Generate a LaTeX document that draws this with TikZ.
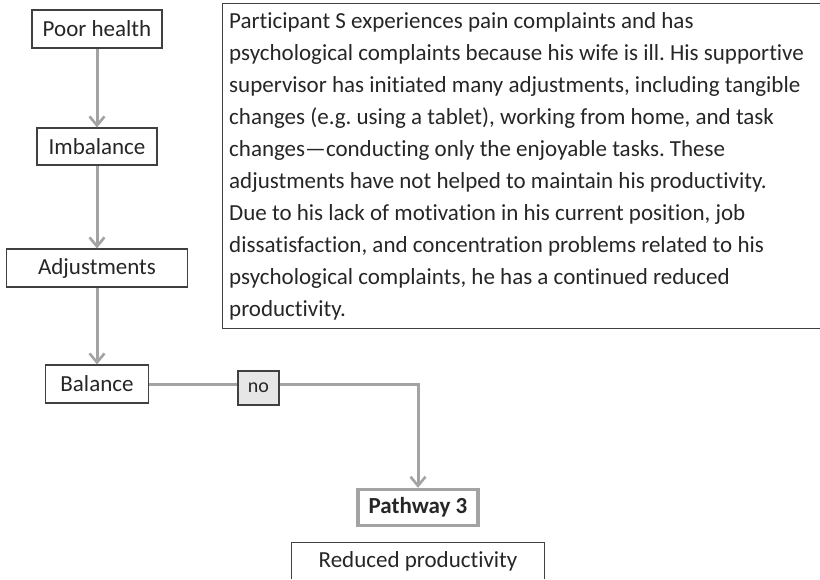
\documentclass[tikz,border=0pt]{standalone}
\usepackage{fontspec}
\setmainfont{Carlito}[Ligatures={NoCommon}]
\frenchspacing
\usetikzlibrary{arrows.meta}
\definecolor{flowgray}{HTML}{A3A3A3}
\definecolor{boxline}{HTML}{404040}
\definecolor{ink}{HTML}{262626}
\definecolor{tagfill}{HTML}{E6E6E6}
\tikzset{
  stage/.style={draw=boxline, line width=1.2pt, fill=white, text=ink,
    font=\fontsize{23}{26}\selectfont, inner sep=0pt, align=center},
  flow/.style={draw=flowgray, line width=3pt,
    -{Straight Barb[length=9pt,width=15pt,line width=2.6pt]}},
  storyline/.style={text=ink, font=\fontsize{23}{26}\selectfont, inner sep=0pt, anchor=base west},
}
\begin{document}
\begin{tikzpicture}[x=1pt,y=-1pt]
\useasboundingbox (0,0) rectangle (820,579);

% left column of stages
\node[stage, minimum width=130pt, minimum height=38pt] (poor) at (97,29) {Poor health};
\node[stage, minimum width=120pt, minimum height=37pt] (imb) at (97,146.5) {Imbalance};
\node[stage, minimum width=181pt, minimum height=38pt] (adj) at (97,268) {Adjustments};
\node[stage, minimum width=103pt, minimum height=38pt] (bal) at (97,384) {Balance};

% pathway outcome
\node[stage, draw=flowgray, line width=3.5pt, minimum width=120pt, minimum height=36pt,
      font=\fontsize{23}{26}\selectfont\bfseries] (pw) at (418,507.5) {Pathway 3};

% bottom box, running off the lower edge
\node[text=ink, font=\fontsize{23}{26}\selectfont, inner sep=0pt,
      minimum width=252pt, minimum height=36pt] (rp) at (418,561) {Reduced productivity};
\draw[boxline, line width=1.2pt] (rp.south west) -- (rp.north west) -- (rp.north east) -- (rp.south east);

% case description box, open on the right edge
\node[inner sep=0pt, minimum width=598pt, minimum height=324pt] (story) at (522,166) {};
\draw[boxline, line width=1.2pt] (story.north east) -- (story.north west) -- (story.south west) -- (story.south east);
\foreach \t [count=\i] in {
  {Participant S experiences pain complaints and has},
  {psychological complaints because his wife is ill. His supportive},
  {supervisor has initiated many adjustments, including tangible},
  {changes (e.g. using a tablet), working from home, and task},
  {changes—conducting only the enjoyable tasks. These},
  {adjustments have not helped to maintain his productivity.},
  {Due to his lack of motivation in his current position, job},
  {dissatisfaction, and concentration problems related to his},
  {psychological complaints, he has a continued reduced},
  {productivity.}}
  \node[storyline] (line\i) at (229,{28+32.1*(\i-1)}) {\t};

% connectors
\draw[flow] (poor.south) -- (imb.north);
\draw[flow] (imb.south) -- (adj.north);
\draw[flow] (adj.south) -- (bal.north);
\draw[flow] (bal.east) -| (pw.north);

\node[stage, fill=tagfill, line width=1.2pt, minimum width=41pt, minimum height=34pt,
      font=\fontsize{20}{23}\selectfont] (no) at (258.5,388) {no};
\end{tikzpicture}
\end{document}
